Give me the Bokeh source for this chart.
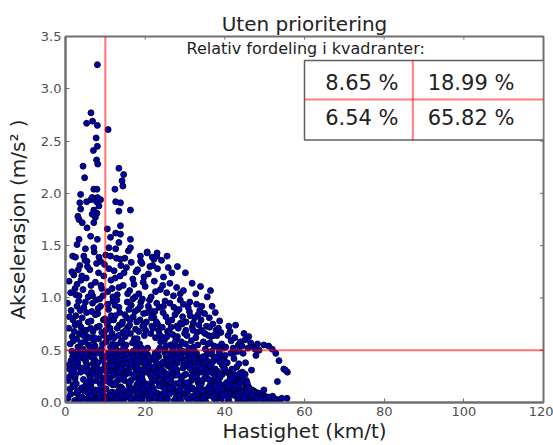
from bokeh.plotting import figure
from bokeh.models import Span, Label, FixedTicker, PrintfTickFormatter
from bokeh.core.properties import value
from bokeh.embed import file_html
from bokeh.resources import INLINE

FONT = "DejaVu Sans"

title_text = "Uten prioritering"
x_label = "Hastighet (km/t)"
y_label = "Akselerasjon (m/s\u00b2 )"
table_title = "Relativ fordeling i kvadranter:"
# quadrant shares: upper-left, upper-right, lower-left, lower-right
quadrant_share = [8.65, 18.99, 6.54, 65.82]
speed_threshold = 10
accel_threshold = 0.5
x_ticks = [0, 20, 40, 60, 80, 100, 120]
y_ticks = [0.0, 0.5, 1.0, 1.5, 2.0, 2.5, 3.0, 3.5]

# sparse high accelerations
high_speed = [
    8.0, 6.4, 5.3, 6.8, 8.0, 10.7, 7.7, 8.0, 7.0, 7.8,
    8.1, 4.4, 13.4, 4.8, 14.6, 14.2, 12.4, 14.4, 3.8, 7.1,
    7.9, 3.6, 5.3, 6.4, 7.8, 8.8, 12.6, 13.8, 3.8, 7.1,
    7.9, 13.4, 16.3, 3.1, 6.7, 7.5, 3.4, 4.2, 7.1, 5.4,
    10.5, 13.8, 12.6, 13.8, 11.3, 3.4, 6.3, 8.0, 16.3, 16.3,
    2.9, 5.0, 7.1, 10.9, 12.6, 13.4, 2.5, 4.6, 5.4, 8.4,
    11.3, 13.8, 8.0, 6.7, 8.4, 18.8, 20.5, 21.8, 23.0, 22.2,
    25.5, 28.1, 30.1, 31.8, 33.9, 36.4, 32.7, 35.6]
high_accel = [
    3.23, 2.77, 2.67, 2.69, 2.65, 2.61, 2.53, 2.45, 2.41, 2.32,
    2.28, 2.26, 2.24, 2.15, 2.18, 2.12, 2.04, 2.07, 1.99, 2.04,
    2.04, 1.91, 1.92, 1.94, 1.92, 1.94, 1.92, 1.91, 1.85, 1.84,
    1.81, 1.83, 1.84, 1.78, 1.80, 1.77, 1.75, 1.72, 1.72, 1.67,
    1.66, 1.69, 1.62, 1.61, 1.58, 1.56, 1.59, 1.56, 1.56, 1.48,
    1.51, 1.47, 1.48, 1.48, 1.47, 1.53, 1.39, 1.40, 1.35, 1.39,
    1.40, 1.37, 1.96, 1.96, 1.88, 1.40, 1.43, 1.39, 1.43, 1.37,
    1.40, 1.30, 1.24, 1.14, 1.11, 1.07, 1.04, 1.01]

# accelerations 1.0 - 1.45
mid_speed = [
    1.3, 2.1, 2.9, 3.6, 4.4, 5.2, 6.1, 6.8, 7.5, 8.3,
    9.1, 9.8, 10.6, 11.4, 12.2, 13.0, 13.7, 14.5, 15.3, 16.1,
    16.9, 17.7, 18.4, 19.2, 20.0, 20.8, 21.5, 22.3, 23.1, 23.8,
    24.6, 25.4, 26.2, 27.1, 27.9, 28.8, 29.6, 2.6, 4.9, 7.2,
    10.1, 12.8, 15.8, 18.9, 21.2, 24.1, 3.9, 6.4, 9.6, 13.4,
    17.2, 19.7, 22.6, 26.7, 5.7, 8.8, 11.9, 14.9, 1.8, 20.5,
    0.9, 2.4, 3.2, 4.1, 5.5, 6.5, 7.8, 8.9, 9.4, 10.9,
    11.7, 12.5, 13.9, 14.7, 15.6, 16.5, 17.5, 18.1, 19.5, 21.9,
    22.9, 24.4, 25.8, 1.6, 3.4]
mid_accel = [
    1.05, 1.22, 1.13, 1.31, 1.08, 1.19, 1.27, 1.02, 1.15, 1.24,
    1.09, 1.32, 1.06, 1.17, 1.26, 1.03, 1.21, 1.12, 1.29, 1.07,
    1.18, 1.25, 1.04, 1.33, 1.11, 1.23, 1.01, 1.16, 1.28, 1.08,
    1.20, 1.05, 1.14, 1.02, 1.10, 1.04, 1.07, 1.03, 1.36, 1.44,
    1.41, 1.38, 1.45, 1.35, 1.30, 1.36, 1.17, 1.12, 1.21, 1.10,
    1.13, 1.20, 1.06, 1.24, 1.01, 1.35, 1.01, 1.38, 1.40, 1.44,
    1.16, 1.09, 1.27, 1.21, 1.30, 1.05, 1.33, 1.12, 1.02, 1.28,
    1.09, 1.19, 1.31, 1.24, 1.04, 1.34, 1.01, 1.27, 1.15, 1.31,
    1.40, 1.12, 1.29, 1.25, 1.02]

# accelerations 0.5 - 1.0
upper_speed = [
    1.2, 0.8, 1.7, 1.4, 0.5, 1.9,
    2.4, 3.1, 3.7, 2.8, 3.3, 2.2, 3.9, 2.6, 3.5, 2.9,
    4.6, 5.1, 5.8, 4.2, 5.4, 4.9, 5.7, 4.4, 5.0, 4.1,
    6.1, 6.6, 7.4, 7.9, 6.8, 7.1, 6.4, 7.7, 6.2, 7.5, 6.9,
    8.5, 9.3, 8.1, 9.7, 8.8, 9.0, 8.3, 9.5, 8.6,
    10.2, 11.7, 10.8, 11.3, 10.5, 11.9, 10.1, 11.0, 11.5, 10.6, 11.2,
    12.7, 13.3, 12.1, 13.8, 12.4, 13.0, 13.6, 12.9, 12.2, 13.5, 12.6,
    14.4, 15.2, 14.9, 15.7, 14.1, 15.5, 14.6, 15.0, 15.9, 14.3, 15.4,
    16.5, 17.3, 16.1, 17.8, 16.8, 17.0, 16.3, 17.6, 16.9, 17.4,
    18.6, 19.4, 18.2, 19.8, 18.9, 19.1, 18.4, 19.6, 18.0, 19.3, 18.7,
    20.3, 21.4, 20.8, 21.9, 20.1, 21.1, 20.6, 21.7, 21.3,
    22.6, 23.4, 22.2, 23.9, 22.9, 23.1, 22.4, 23.7, 22.0, 23.5,
    24.5, 25.3, 24.1, 25.8, 24.8, 25.0, 24.3, 25.6, 24.9, 25.2,
    26.4, 27.2, 26.0, 27.7, 26.7, 27.0, 26.2, 27.5, 26.9, 27.9,
    28.3, 29.1, 28.0, 29.6, 28.6, 28.9, 28.1, 29.4, 28.8, 29.9,
    30.5, 31.3, 30.1, 31.8, 30.8, 31.0, 30.3, 31.6, 31.2,
    32.4, 33.2, 32.0, 33.7, 32.7, 32.9, 32.2, 33.5, 33.0,
    34.6, 35.4, 34.2, 35.9, 34.9, 35.1, 34.4, 35.7, 34.0,
    36.5, 37.3, 36.1, 37.8, 36.8, 37.0, 36.3, 37.6,
    38.4, 39.2, 38.0, 39.7, 38.7, 39.0, 38.2,
    40.2, 41.0, 41.6, 42.7, 43.4, 40.8, 42.1, 43.9, 41.3, 42.5,
    44.3, 45.1, 45.8, 46.5, 47.2, 44.8, 46.0, 47.6, 48.2, 49.8, 51.0, 51.9,
    1.0, 2.0, 3.4, 4.5, 5.3, 6.3, 7.2, 8.2, 9.1, 9.9,
    10.9, 11.8, 12.5, 13.4, 14.2, 15.1, 16.2, 17.1, 17.9, 18.8,
    19.7, 20.5, 21.6, 22.8, 23.6, 24.6, 25.5, 26.5, 27.4, 28.5,
    29.3, 30.2, 31.1, 32.1, 33.3, 34.1, 35.0, 36.2, 37.1, 3.9]
upper_accel = [
    0.56, 0.71, 0.63, 0.88, 0.95, 0.79,
    0.74, 0.53, 0.88, 0.61, 0.97, 0.68, 0.57, 0.83, 0.66, 0.92,
    0.91, 0.69, 0.55, 0.81, 0.63, 0.58, 0.77, 0.51, 0.96, 0.66,
    0.62, 0.87, 0.54, 0.72, 0.95, 0.59, 0.78, 0.98, 0.52, 0.84, 0.68,
    0.73, 0.56, 0.85, 0.64, 0.92, 0.51, 0.61, 0.79, 0.99,
    0.58, 0.66, 0.89, 0.53, 0.75, 0.97, 0.69, 0.62, 0.83, 0.94, 0.71,
    0.51, 0.64, 0.79, 0.57, 0.93, 0.71, 0.86, 0.98, 0.62, 0.74, 0.55,
    0.67, 0.55, 0.84, 0.72, 0.59, 0.96, 0.52, 0.63, 0.89, 0.77, 0.81,
    0.93, 0.61, 0.74, 0.53, 0.57, 0.82, 0.66, 0.70, 0.99, 0.87,
    0.56, 0.73, 0.89, 0.64, 0.96, 0.52, 0.68, 0.85, 0.61, 0.99, 0.79,
    0.77, 0.66, 0.92, 0.84, 0.69, 0.98, 0.52, 0.73, 0.88,
    0.62, 0.69, 0.81, 0.58, 0.95, 0.75, 0.87, 0.52, 0.71, 0.91,
    0.86, 0.54, 0.63, 0.77, 0.59, 0.97, 0.72, 0.68, 0.51, 0.82,
    0.55, 0.91, 0.68, 0.61, 0.79, 0.52, 0.95, 0.84, 0.65, 0.73,
    0.71, 0.58, 0.87, 0.94, 0.53, 0.76, 0.63, 0.82, 0.98, 0.66,
    0.64, 0.83, 0.56, 0.72, 0.91, 0.52, 0.77, 0.59, 0.96,
    0.81, 0.55, 0.69, 0.88, 0.62, 0.94, 0.53, 0.74, 0.67,
    0.58, 0.73, 0.92, 0.64, 0.85, 0.51, 0.68, 0.56, 0.79,
    0.63, 0.54, 0.81, 0.69, 0.92, 0.75, 0.57, 0.86,
    0.71, 0.56, 0.64, 0.52, 0.78, 0.67, 0.53,
    0.53, 0.73, 0.59, 0.74, 0.55, 0.64, 0.52, 0.58, 0.68, 0.62,
    0.54, 0.60, 0.52, 0.57, 0.53, 0.66, 0.63, 0.51, 0.56, 0.55, 0.54, 0.51,
    0.82, 0.59, 0.76, 0.64, 0.86, 0.71, 0.62, 0.90, 0.67, 0.80,
    0.78, 0.56, 0.83, 0.91, 0.75, 0.69, 0.79, 0.58, 0.77, 0.92,
    0.74, 0.86, 0.81, 0.77, 0.65, 0.92, 0.63, 0.72, 0.57, 0.89,
    0.75, 0.69, 0.87, 0.76, 0.84, 0.69, 0.66, 0.72, 0.64, 0.72]

# accelerations 0 - 0.5
low_speed = [
    0.6, 1.1, 1.5, 0.9, 1.8, 1.3, 0.7, 1.6, 1.0, 1.9,
    2.3, 2.8, 3.4, 2.1, 3.7, 2.6, 3.1, 3.9, 2.4, 3.3, 2.9, 3.6, 2.2, 3.8, 2.7, 3.2,
    4.2, 4.7, 5.3, 5.8, 4.4, 5.1, 5.6, 4.9, 4.1, 5.9, 5.4, 4.6, 5.0, 5.7, 4.8,
    6.2, 6.8, 7.3, 7.9, 6.5, 7.1, 7.6, 6.1, 6.9, 7.4, 7.8, 6.4, 7.0, 7.7, 6.6, 7.2, 6.3, 7.5,
    8.1, 8.7, 9.2, 9.8, 8.4, 9.0, 9.5, 8.2, 8.9, 9.6, 9.9, 8.5, 9.3, 8.8, 9.7, 8.3, 9.1, 9.4,
    10.2, 10.8, 11.3, 11.9, 10.5, 11.1, 11.6, 10.1, 10.9, 11.4, 11.8, 10.4, 11.0, 11.7, 10.6, 11.2, 10.3, 11.5, 10.7, 11.9,
    12.1, 12.7, 13.2, 13.8, 12.4, 13.0, 13.5, 12.2, 12.9, 13.6, 13.9, 12.5, 13.1, 13.7, 12.6, 13.3, 12.3, 13.4, 12.8, 14.0,
    14.2, 14.8, 15.3, 15.9, 14.5, 15.1, 15.6, 14.1, 14.9, 15.4, 15.8, 14.4, 15.0, 15.7, 14.6, 15.2, 14.3, 15.5, 14.7, 16.0,
    16.2, 16.8, 17.3, 17.9, 16.5, 17.1, 17.6, 16.1, 16.9, 17.4, 17.8, 16.4, 17.0, 17.7, 16.6, 17.2, 16.3, 17.5, 16.7, 18.0,
    18.2, 18.8, 19.3, 19.9, 18.5, 19.1, 19.6, 18.1, 18.9, 19.4, 19.8, 18.4, 19.0, 19.7, 18.6, 19.2, 18.3, 19.5, 18.7, 20.0,
    20.2, 20.8, 21.3, 21.9, 20.5, 21.1, 21.6, 20.1, 20.9, 21.4, 21.8, 20.4, 21.0, 21.7, 20.6, 21.2, 20.3, 21.5, 20.7, 22.0,
    22.2, 22.8, 23.3, 23.9, 22.5, 23.1, 23.6, 22.1, 22.9, 23.4, 23.8, 22.4, 23.0, 23.7, 22.6, 23.2, 22.3, 23.5, 22.7, 24.0,
    24.2, 24.8, 25.3, 25.9, 24.5, 25.1, 25.6, 24.1, 24.9, 25.4, 25.8, 24.4, 25.0, 25.7, 24.6, 25.2, 24.3, 25.5, 24.7, 26.0,
    26.2, 26.8, 27.3, 27.9, 26.5, 27.1, 27.6, 26.1, 26.9, 27.4, 27.8, 26.4, 27.0, 27.7, 26.6, 27.2, 26.3, 27.5, 26.7, 28.0,
    28.2, 28.8, 29.3, 29.9, 28.5, 29.1, 29.6, 28.1, 28.9, 29.4, 29.8, 28.4, 29.0, 29.7, 28.6, 29.2, 28.3, 29.5,
    30.2, 30.8, 31.3, 31.9, 30.5, 31.1, 31.6, 30.1, 30.9, 31.4, 31.8, 30.4, 31.0, 31.7, 30.6, 31.2, 30.3, 31.5, 30.7, 32.0,
    32.2, 32.8, 33.3, 33.9, 32.5, 33.1, 33.6, 32.1, 32.9, 33.4, 33.8, 32.4, 33.0, 33.7, 32.6, 33.2, 32.3, 33.5, 32.7, 34.0,
    34.2, 34.8, 35.3, 35.9, 34.5, 35.1, 35.6, 34.1, 34.9, 35.4, 35.8, 34.4, 35.0, 35.7, 34.6, 35.2, 34.3, 35.5, 34.7, 36.0,
    36.2, 36.8, 37.3, 37.9, 36.5, 37.1, 37.6, 36.1, 36.9, 37.4, 37.8, 36.4, 37.0, 37.7, 36.6, 37.2, 36.3, 37.5, 36.7, 38.0,
    38.2, 38.8, 39.3, 39.9, 38.5, 39.1, 39.6, 38.1, 38.9, 39.4, 39.8, 38.4, 39.0, 39.7, 38.6, 39.2, 38.3, 39.5, 38.7, 40.0,
    40.2, 40.8, 41.3, 41.9, 40.5, 41.1, 41.6, 40.1, 40.9, 41.4, 41.8, 40.4, 41.0, 41.7, 40.6, 41.2, 40.3, 41.5,
    42.2, 42.8, 43.3, 43.9, 42.5, 43.1, 43.6, 42.1, 42.9, 43.4, 43.8, 42.4, 43.0, 43.7, 42.6, 43.2, 42.3, 43.5,
    44.2, 44.8, 45.3, 45.9, 44.5, 45.1, 45.6, 44.1, 44.9, 45.4, 45.8, 44.4, 45.0, 45.7, 44.6, 45.2,
    46.2, 46.8, 47.3, 47.9, 46.5, 47.1, 47.6, 46.1, 46.9, 47.4,
    48.4, 48.9, 49.5, 50.1, 50.6, 51.2, 51.8, 52.4, 53.0, 53.6,
    48.1, 49.2, 50.3, 51.1, 52.0, 46.7, 47.8, 49.8, 54.3, 55.6,
    53.2, 53.6, 54.8, 55.7, 52.8, 51.0, 55.2, 48.6,
    10.6, 11.4, 12.3, 13.1, 12.8, 11.9, 10.3, 13.6, 12.0, 11.1,
    14.5, 15.2, 16.4, 17.3, 16.9, 15.8, 14.1, 17.7, 16.0, 15.5,
    18.4, 19.3, 20.5, 21.2, 20.9, 19.8, 18.1, 21.7, 20.1, 19.6,
    22.5, 23.2, 24.4, 25.3, 24.9, 23.8, 22.1, 25.7, 24.0, 23.5,
    26.6, 27.3, 28.5, 29.1, 28.9, 27.8, 26.2, 29.7, 28.1, 27.5,
    30.5, 31.3, 32.4, 33.2, 32.9, 31.8, 30.1, 33.7, 32.0, 31.5,
    34.6, 35.3, 36.5, 37.2, 36.9, 35.8, 34.1, 37.7, 36.0, 35.5,
    38.5, 39.3, 40.4, 41.2, 40.9, 39.8, 38.1, 41.7, 40.0, 39.5,
    42.6, 43.3, 44.5, 45.1, 44.9, 43.8, 42.1, 45.6, 44.0, 43.5,
    1.4, 2.5, 3.5, 4.5, 5.5, 6.7, 7.4, 8.6, 9.5, 5.2,
    0.8, 2.0, 3.0, 4.0, 5.1, 6.0, 7.0, 8.0, 9.0, 6.4]
low_accel = [
    0.04, 0.13, 0.27, 0.36, 0.44, 0.08, 0.21, 0.49, 0.32, 0.17,
    0.02, 0.09, 0.06, 0.31, 0.12, 0.41, 0.38, 0.47, 0.23, 0.34, 0.45, 0.03, 0.15, 0.29, 0.18, 0.49,
    0.05, 0.11, 0.03, 0.08, 0.33, 0.39, 0.44, 0.48, 0.14, 0.27, 0.36, 0.42, 0.16, 0.31, 0.01,
    0.24, 0.07, 0.41, 0.04, 0.19, 0.33, 0.12, 0.46, 0.37, 0.02, 0.47, 0.15, 0.29, 0.21, 0.45, 0.09, 0.03, 0.39,
    0.38, 0.18, 0.43, 0.06, 0.27, 0.02, 0.31, 0.12, 0.47, 0.22, 0.35, 0.49, 0.09, 0.25, 0.44, 0.03, 0.15, 0.40,
    0.13, 0.34, 0.02, 0.26, 0.45, 0.08, 0.39, 0.21, 0.05, 0.48, 0.17, 0.29, 0.42, 0.10, 0.36, 0.23, 0.01, 0.31, 0.47, 0.44,
    0.27, 0.04, 0.36, 0.15, 0.09, 0.46, 0.22, 0.41, 0.31, 0.02, 0.49, 0.18, 0.07, 0.38, 0.43, 0.25, 0.33, 0.12, 0.20, 0.06,
    0.44, 0.21, 0.08, 0.33, 0.02, 0.27, 0.47, 0.14, 0.38, 0.05, 0.19, 0.31, 0.42, 0.11, 0.24, 0.49, 0.36, 0.29, 0.06, 0.16,
    0.09, 0.42, 0.26, 0.17, 0.34, 0.03, 0.45, 0.28, 0.13, 0.38, 0.06, 0.21, 0.49, 0.31, 0.01, 0.24, 0.40, 0.11, 0.47, 0.35,
    0.32, 0.14, 0.47, 0.03, 0.23, 0.39, 0.08, 0.44, 0.28, 0.17, 0.36, 0.05, 0.12, 0.42, 0.49, 0.26, 0.19, 0.31, 0.02, 0.45,
    0.18, 0.37, 0.05, 0.43, 0.29, 0.11, 0.24, 0.48, 0.02, 0.33, 0.15, 0.07, 0.40, 0.20, 0.46, 0.27, 0.35, 0.09, 0.13, 0.31,
    0.41, 0.07, 0.25, 0.16, 0.47, 0.33, 0.02, 0.12, 0.38, 0.44, 0.28, 0.21, 0.09, 0.35, 0.04, 0.49, 0.30, 0.19, 0.43, 0.08,
    0.06, 0.29, 0.44, 0.12, 0.37, 0.19, 0.03, 0.32, 0.48, 0.24, 0.41, 0.15, 0.08, 0.35, 0.21, 0.46, 0.01, 0.27, 0.39, 0.17,
    0.35, 0.12, 0.02, 0.43, 0.23, 0.47, 0.18, 0.08, 0.28, 0.39, 0.05, 0.45, 0.14, 0.26, 0.41, 0.33, 0.20, 0.10, 0.49, 0.31,
    0.11, 0.04, 0.42, 0.17, 0.46, 0.21, 0.08, 0.38, 0.14, 0.49, 0.26, 0.02, 0.44, 0.36, 0.19, 0.09, 0.48, 0.33,
    0.27, 0.44, 0.13, 0.06, 0.35, 0.02, 0.21, 0.48, 0.17, 0.39, 0.30, 0.09, 0.46, 0.25, 0.04, 0.33, 0.15, 0.42, 0.11, 0.23,
    0.05, 0.31, 0.19, 0.43, 0.12, 0.38, 0.08, 0.26, 0.47, 0.02, 0.16, 0.35, 0.22, 0.29, 0.44, 0.10, 0.49, 0.14, 0.03, 0.37,
    0.42, 0.09, 0.27, 0.14, 0.03, 0.34, 0.46, 0.18, 0.23, 0.06, 0.39, 0.29, 0.12, 0.48, 0.36, 0.01, 0.21, 0.31, 0.44, 0.08,
    0.16, 0.38, 0.04, 0.25, 0.47, 0.11, 0.32, 0.07, 0.21, 0.43, 0.02, 0.34, 0.28, 0.18, 0.09, 0.40, 0.13, 0.24, 0.49, 0.06,
    0.08, 0.24, 0.36, 0.02, 0.19, 0.45, 0.13, 0.30, 0.05, 0.27, 0.41, 0.11, 0.17, 0.33, 0.48, 0.04, 0.22, 0.09, 0.39, 0.15,
    0.14, 0.03, 0.22, 0.08, 0.29, 0.11, 0.18, 0.45, 0.06, 0.25, 0.32, 0.19, 0.02, 0.13, 0.38, 0.27, 0.09, 0.47,
    0.07, 0.19, 0.02, 0.12, 0.26, 0.05, 0.15, 0.31, 0.09, 0.21, 0.04, 0.13, 0.34, 0.23, 0.48, 0.10, 0.42, 0.49,
    0.11, 0.03, 0.14, 0.06, 0.19, 0.08, 0.12, 0.24, 0.01, 0.21, 0.16, 0.29, 0.05, 0.09, 0.47, 0.38,
    0.02, 0.12, 0.11, 0.09, 0.05, 0.04, 0.10, 0.14, 0.07, 0.01,
    0.09, 0.08, 0.07, 0.06, 0.05, 0.05, 0.04, 0.03, 0.03, 0.02,
    0.04, 0.03, 0.02, 0.01, 0.06, 0.31, 0.45, 0.12, 0.04, 0.04,
    0.20, 0.40, 0.32, 0.29, 0.47, 0.05, 0.31, 0.50,
    0.30, 0.06, 0.17, 0.40, 0.03, 0.35, 0.24, 0.29, 0.48, 0.19,
    0.12, 0.37, 0.04, 0.26, 0.44, 0.09, 0.33, 0.02, 0.19, 0.46,
    0.41, 0.22, 0.16, 0.02, 0.34, 0.48, 0.09, 0.27, 0.39, 0.13,
    0.05, 0.28, 0.38, 0.22, 0.13, 0.02, 0.34, 0.46, 0.26, 0.16,
    0.32, 0.17, 0.07, 0.24, 0.02, 0.42, 0.14, 0.40, 0.27, 0.35,
    0.19, 0.36, 0.42, 0.08, 0.25, 0.14, 0.40, 0.31, 0.06, 0.47,
    0.11, 0.24, 0.35, 0.44, 0.06, 0.29, 0.33, 0.16, 0.22, 0.40,
    0.28, 0.13, 0.04, 0.21, 0.16, 0.35, 0.43, 0.26, 0.32, 0.07,
    0.16, 0.08, 0.21, 0.27, 0.04, 0.28, 0.24, 0.19, 0.10, 0.37,
    0.40, 0.26, 0.43, 0.22, 0.19, 0.43, 0.27, 0.06, 0.20, 0.47,
    0.24, 0.37, 0.10, 0.47, 0.30, 0.11, 0.49, 0.33, 0.31, 0.06]

speed = []
accel = []
for xs, ys in ((low_speed, low_accel), (upper_speed, upper_accel),
               (mid_speed, mid_accel), (high_speed, high_accel)):
    n = min(len(xs), len(ys))
    speed += xs[:n]
    accel += ys[:n]

TEXT = "#222222"
AXIS = "#707070"

p = figure(width=553, height=445, x_range=(0, 120), y_range=(0, 3.5),
           output_backend="svg", toolbar_location=None,
           min_border_left=65, min_border_right=10, min_border_top=36,
           min_border_bottom=0)
p.background_fill_color = "white"
p.border_fill_color = "white"
p.outline_line_color = AXIS
p.outline_line_width = 2
p.grid.visible = False

p.title.text = title_text
p.title.align = "center"
p.title.text_font = FONT
p.title.text_font_size = "20px"
p.title.text_font_style = "normal"
p.title.text_color = TEXT
p.title.standoff = 2

for ax, ticks in ((p.xaxis[0], x_ticks), (p.yaxis[0], y_ticks)):
    ax.ticker = FixedTicker(ticks=ticks)
    ax.major_tick_in = 4
    ax.major_tick_out = 0
    ax.minor_tick_line_color = None
    ax.axis_line_color = AXIS
    ax.axis_line_width = 2
    ax.major_tick_line_color = AXIS
    ax.major_label_text_font = FONT
    ax.major_label_text_font_size = "13px"
    ax.major_label_text_color = "#505050"
    ax.axis_label_text_font = FONT
    ax.axis_label_text_font_size = "20px"
    ax.axis_label_text_font_style = "normal"
    ax.axis_label_text_color = TEXT

p.yaxis[0].formatter = PrintfTickFormatter(format="%.1f")
p.xaxis[0].axis_label = x_label
p.yaxis[0].axis_label = y_label
p.xaxis[0].major_label_standoff = 4
p.xaxis[0].axis_label_standoff = 0
p.yaxis[0].major_label_standoff = 4
p.yaxis[0].axis_label_standoff = 8

# inward ticks on the top and right frame edges
p.segment(x0=x_ticks, y0=[3.5] * len(x_ticks), x1=x_ticks, y1=[3.47] * len(x_ticks),
          line_color=AXIS, line_width=1)
p.segment(x0=[120] * len(y_ticks), y0=y_ticks, x1=[119.1] * len(y_ticks), y1=y_ticks,
          line_color=AXIS, line_width=1)

p.scatter(speed, accel, size=6, fill_color="#0000a8", line_color="#000030",
          line_width=0.9)

for loc, dim in ((speed_threshold, "height"), (accel_threshold, "width")):
    p.add_layout(Span(location=loc, dimension=dim, line_color="red",
                      line_alpha=0.55, line_width=2))

# quadrant table (layout in data space)
t_left, t_mid, t_right = 60, 87.2, 120
t_bottom, t_midy, t_top = 2.51, 2.897, 3.27
p.quad(left=[t_left], right=[t_right], bottom=[t_bottom], top=[t_top],
       fill_color="white", line_color="#606060", line_width=1.5)
p.segment(x0=[t_mid, t_left], y0=[t_bottom, t_midy], x1=[t_mid, t_right],
          y1=[t_top, t_midy], line_color="red", line_alpha=0.5, line_width=2)

cell_text = ["%.2f %%" % v for v in quadrant_share]
p.text(x=[74.4, 101.8, 74.4, 101.8], y=[3.06, 3.06, 2.72, 2.72], text=cell_text,
       text_align="center", text_baseline="middle", text_font=value(FONT),
       text_font_size="21px", text_color=TEXT)

p.add_layout(Label(x=60.3, y=3.385, text=table_title, text_align="center",
                   text_baseline="middle", text_font=FONT, text_font_size="16px",
                   text_color=TEXT))

open("out.html", "w").write(file_html(p, INLINE))
